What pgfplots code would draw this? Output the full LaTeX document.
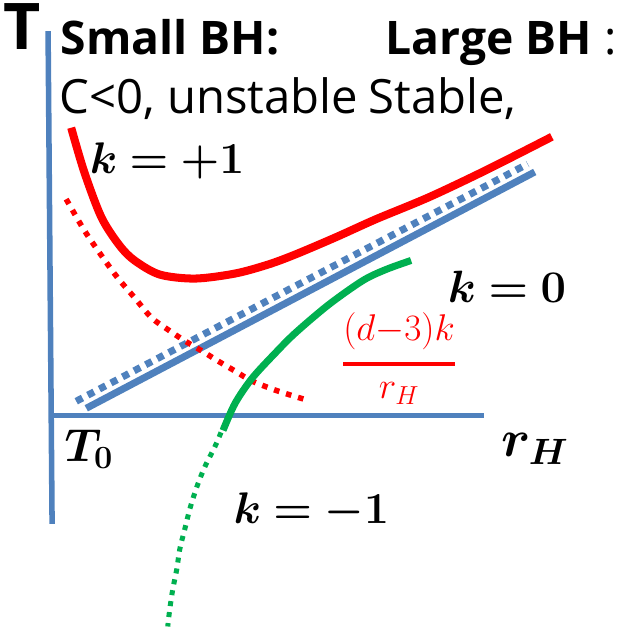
\RequirePackage{fix-cm}
\documentclass[border=0pt]{standalone}
\usepackage{pgfplots}
\pgfplotsset{compat=1.18}
\usepackage{amsmath,bm}
\usepackage{fontspec}
\setmainfont{Open Sans}

\definecolor{axblue}{RGB}{79,129,189}
\definecolor{kgreen}{RGB}{0,176,80}
\definecolor{kred}{RGB}{255,0,0}

\begin{document}
\begin{tikzpicture}
\begin{axis}[
  scale only axis, width=629pt, height=627pt,
  xmin=0, xmax=629, ymin=0, ymax=627,
  y dir=reverse, hide axis, clip=false,
  every node/.style={inner sep=0pt, outer sep=0pt},
]
% axes of the sketch
\addplot[axblue, line width=5.5pt] coordinates {(54,35) (58,525)};
\addplot[axblue, line width=5.5pt] coordinates {(56,417) (488,417)};

% k = 0 : straight line and its dotted companion
\addplot[axblue, line width=7pt, dash pattern=on 7pt off 6pt] coordinates {(82,403) (531,167)};
\addplot[axblue, line width=7pt] coordinates {(92,410) (538,175)};

% (d-3)k / r_H term
\addplot[kred, line width=5.5pt, dash pattern=on 5.5pt off 7pt, smooth] coordinates {
  (72,202) (90,233) (107,258) (123,280) (140,300) (157,320) (175,333)
  (190,343) (207,353) (223,363) (240,373) (257,383) (283,393) (312,402)};

% k = +1
\addplot[kred, line width=8pt, smooth] coordinates {
  (77,131) (90,175) (107,220) (125,248) (140,263) (165,277) (200,281)
  (240,276) (273,267) (300,257) (340,240) (380,222) (433,200) (490,173) (555,140)};

% k = -1
\addplot[kgreen, line width=7pt, smooth] coordinates {
  (228,432) (240,405) (257,380) (280,355) (300,335) (333,307) (367,283) (390,272) (415,263)};
\addplot[kgreen, line width=5pt, dash pattern=on 5pt off 6pt, smooth] coordinates {
  (226,434) (220,448) (210,468) (202,488) (195,510) (190,530) (185,550)
  (182,570) (178,590) (175,610) (173,627)};

% texts
\node[anchor=base west, font=\fontsize{64}{64}\selectfont\bfseries] at (axis cs:6,53) {T};
\node[anchor=base west, font=\fontsize{46}{46}\selectfont\bfseries] at (axis cs:63,58) {Small BH:};
\node[anchor=base west, font=\fontsize{46}{46}\selectfont] at (axis cs:386,58) {\textbf{Large BH} :};
\node[anchor=base west, font=\fontsize{47}{47}\selectfont] at (axis cs:62,117) {C<0, unstable};
\node[anchor=base west, font=\fontsize{47}{47}\selectfont] at (axis cs:369,117) {Stable,};

\node[anchor=base west, font=\fontsize{44}{44}\selectfont] at (axis cs:92,177) {$\bm{k=+1}$};
\node[anchor=base west, font=\fontsize{45}{45}\selectfont] at (axis cs:448,305) {$\bm{k=0}$};
\node[anchor=base west, font=\fontsize{44}{44}\selectfont] at (axis cs:235,525) {$\bm{k=-1}$};
\node[anchor=base west, font=\fontsize{46}{46}\selectfont] at (axis cs:67,463) {$\bm{T_0}$};
\node[anchor=base west, font=\fontsize{52}{52}\selectfont] at (axis cs:501,458) {$\bm{r_H}$};
\node[anchor=base, text=kred, font=\fontsize{37}{37}\selectfont] at (axis cs:403,375)
  {$\genfrac{}{}{4pt}{0}{(d{-}3)k}{r_H}$};
\end{axis}
\end{tikzpicture}
\end{document}
